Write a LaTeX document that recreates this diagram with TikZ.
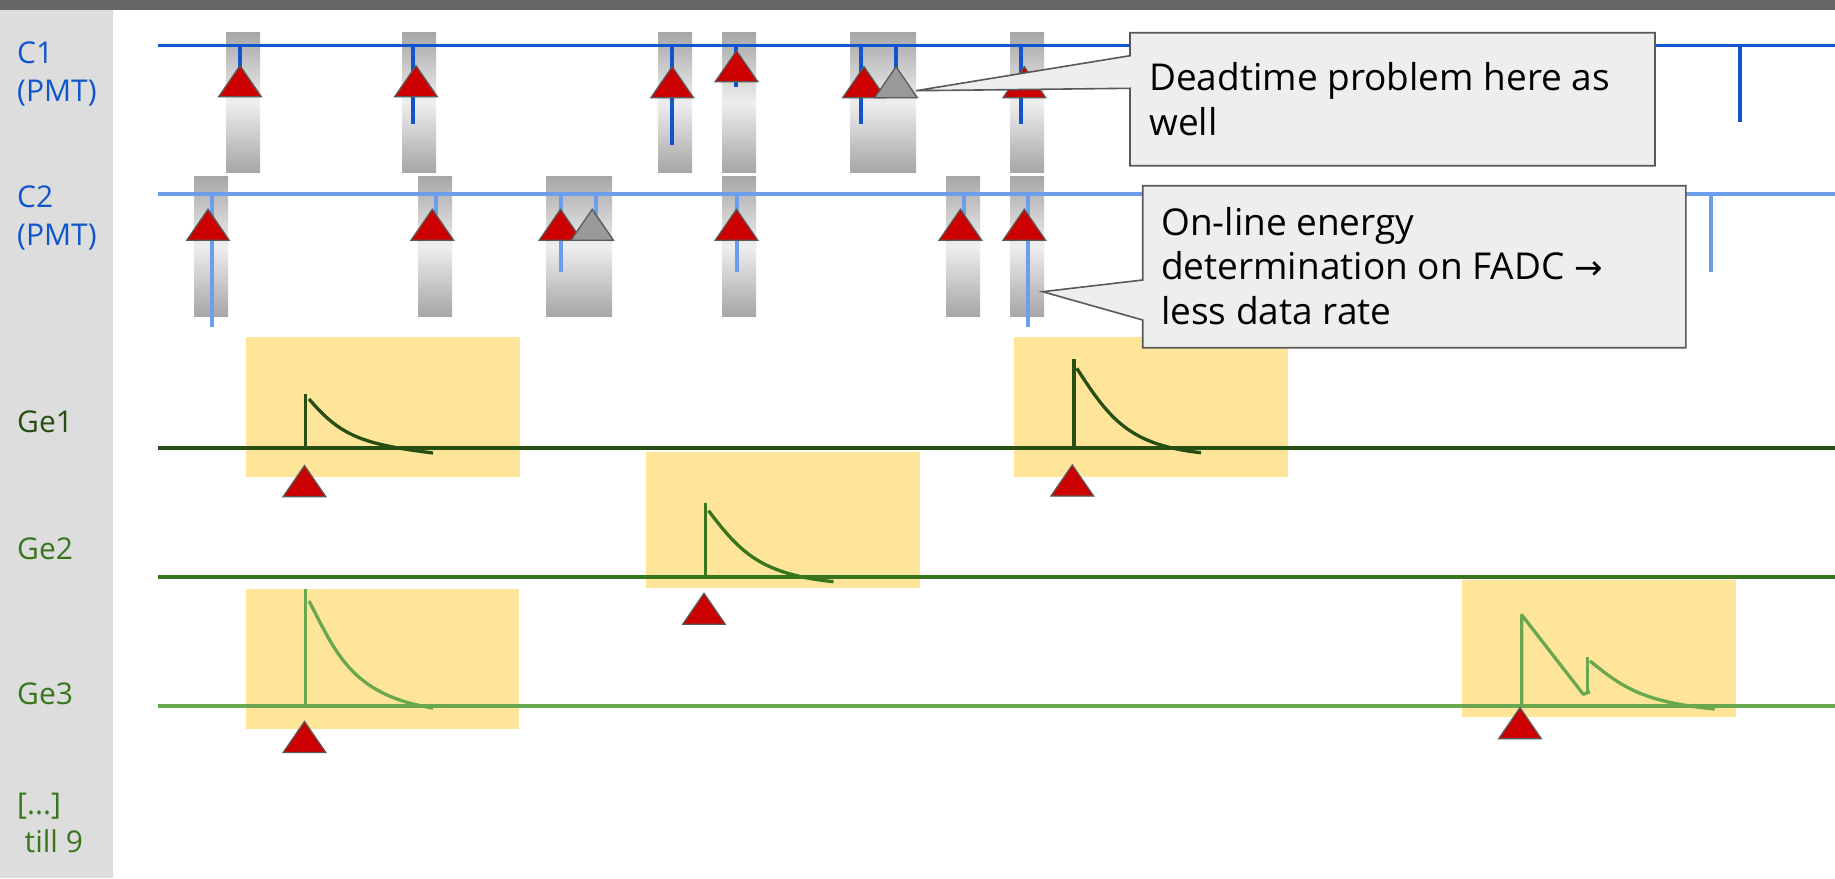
\documentclass[tikz,border=0pt]{standalone}
\usepackage{fontspec}
\setmainfont{Open Sans}
\newfontfamily\symfont{DejaVu Sans}
\definecolor{topbar}{HTML}{666666}
\definecolor{panel}{HTML}{DDDDDD}
\definecolor{cone}{HTML}{1155CC}
\definecolor{ctwo}{HTML}{6D9EEB}
\definecolor{geone}{HTML}{274E13}
\definecolor{getwo}{HTML}{38761D}
\definecolor{gethree}{HTML}{6AA84F}
\definecolor{gatefill}{HTML}{FFE599}
\definecolor{trigred}{HTML}{CC0000}
\definecolor{edgegray}{HTML}{595959}
\definecolor{notefill}{HTML}{EEEEEE}
\definecolor{vetogray}{HTML}{999999}
\definecolor{shadeout}{HTML}{A6A6A6}
\definecolor{shadein}{HTML}{EEEEEE}
\begin{document}
\begin{tikzpicture}[x=1pt,y=-1pt,
  window/.style={top color=shadeout,bottom color=shadeout,middle color=shadein},
  gate/.style={fill=gatefill},
  trace/.style={line width=3.9pt},
  tick/.style={line width=3.9pt},
  pulse/.style={line width=3.3pt},
  trig/.style={fill=trigred,draw=edgegray,line width=1.3pt,line join=miter},
  vetotrig/.style={fill=vetogray,draw=edgegray,line width=1.3pt},
  note/.style={fill=notefill,draw=edgegray,line width=1.6pt},
  notetext/.style={inner sep=0pt,anchor=base west,text=black,font=\fontsize{37}{44}\selectfont},
  lbl/.style={inner sep=0pt,anchor=base west,font=\fontsize{30}{34}\selectfont}]
\useasboundingbox (0,0) rectangle (1835,878);
\fill[white] (0,0) rectangle (1835,878);
% frame: title strip and label column
\fill[topbar] (0,0) rectangle (1835,10);
\fill[panel] (0,10) rectangle (113,878);

% coincidence windows on the PMT channels
\foreach \a/\b in {226/260,402/436,658/692,722/756,850/883,883/916,1010/1044}
  \shade[window] (\a,32) rectangle (\b,172.7);
\foreach \a/\b in {194/228,418/452,546/579,579/612,722/756,946/980,1010/1044}
  \shade[window] (\a,176) rectangle (\b,316.7);

% readout gates on the germanium channels
\fill[gate] (246,337) rectangle (520,476.5);
\fill[gate] (1014,337) rectangle (1287.5,476.5);
\fill[gate] (646,451.5) rectangle (920,588.3);
\fill[gate] (246,589) rectangle (519,728.5);
\fill[gate] (1462,580) rectangle (1736,716.7);

% channel base lines
\draw[trace,cone] (158,45.5) -- (1835,45.5);
\draw[trace,ctwo] (158,193.7) -- (1835,193.7);
\draw[trace,geone] (158,448) -- (1835,448);
\draw[trace,getwo] (158,577) -- (1835,577);
\draw[trace,gethree] (158,705.7) -- (1835,705.7);

% PMT pulses
\foreach \x/\e in {240/70,413/124,672/145,736/86.7,861/124,896/70,1021/124,1740/122}
  \draw[tick,cone] (\x,45.5) -- (\x,\e);
\foreach \x/\e in {211.7/326.7,435.7/215,561/271.7,596/215,737/271.7,964/215,1028/326.7,1711/271.7}
  \draw[tick,ctwo] (\x,193.7) -- (\x,\e);

% germanium pulses
\draw[pulse,geone] (305.8,448) -- (305.8,393.6);
\draw[pulse,geone] (309,399) .. controls (340,435) and (360,444) .. (433,453);
\draw[pulse,geone] (1074,448) -- (1074,359.3);
\draw[pulse,geone] (1076.8,368.3) .. controls (1110,420) and (1130,445) .. (1201,452.7);
\draw[pulse,getwo] (705.8,577) -- (705.8,503.3);
\draw[pulse,getwo] (708.5,510.7) .. controls (740,552) and (760,574) .. (833.5,581.7);
\draw[pulse,gethree] (305.8,705.7) -- (305.8,589);
\draw[pulse,gethree] (309,601) .. controls (335,650) and (350,695) .. (433,708);
\draw[pulse,gethree,line join=round] (1521.8,705.7) -- (1521.8,615) -- (1583.3,694.3) -- (1590,691.7);
\draw[pulse,gethree] (1587.4,692.3) -- (1587.4,656.7);
\draw[pulse,gethree] (1590,661) .. controls (1620,685) and (1640,702) .. (1714.7,709);

% trigger markers
\foreach \x/\y in {240/65.7,416/65.7,672.2/66.7,736.5/50.7,864/66.7,1024.3/66.7,
                   208/209.3,432.3/209.3,560.5/209.3,736.5/209.3,960.4/209.3,1024.3/209.3,
                   304.5/465.6,1072.3/465,704/593.3,304.5/721.5,1520/707.7}
  \draw[trig] (\x,\y) -- ++(-21.3,31) -- ++(42.6,0) -- cycle;
% vetoed (dead-time) triggers
\foreach \x/\y in {896/66.7,592.2/209.3}
  \draw[vetotrig] (\x,\y) -- ++(-21.3,31) -- ++(42.6,0) -- cycle;

% callouts
\draw[note] (1130,32.7) -- (1655,32.7) -- (1655,165.7) -- (1130,165.7) -- (1130,88.3)
  -- (916,90.7) -- (1130,55.7) -- cycle;
\node[notetext] (dead1) at (1149,90.7) {Deadtime problem here as};
\node[notetext] (dead2) at (1149,135) {well};

\draw[note] (1142.7,185.7) -- (1685.8,185.7) -- (1685.8,347.7) -- (1142.7,347.7) -- (1142.7,320)
  -- (1042.6,291.7) -- (1142.7,280) -- cycle;
\node[notetext] (fadc1) at (1161,235) {On-line energy};
\node[notetext] (fadc2) at (1161,279.3) {determination on FADC {\symfont\fontsize{34}{44}\selectfont →}};
\node[notetext] (fadc3) at (1161,324) {less data rate};

% channel names
\node[lbl,text=cone] (c1a) at (17,63.3) {C1};
\node[lbl,text=cone] (c1b) at (17,101) {(PMT)};
\node[lbl,text=cone] (c2a) at (17,207.3) {C2};
\node[lbl,text=cone] (c2b) at (17,245) {(PMT)};
\node[lbl,text=geone] (g1) at (17,432) {Ge1};
\node[lbl,text=getwo] (g2) at (17,559.6) {Ge2};
\node[lbl,text=getwo] (g3) at (17,704.7) {Ge3};
\node[lbl,text=getwo] (gdots) at (17,814) {[...]};
\node[lbl,text=getwo] (gtill) at (24.5,852.5) {till 9};
\end{tikzpicture}
\end{document}
